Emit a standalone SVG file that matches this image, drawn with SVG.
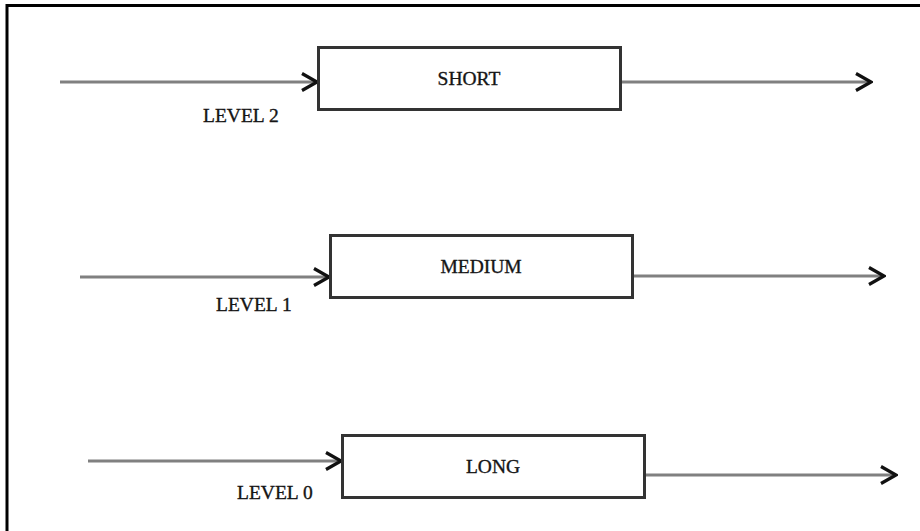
<svg xmlns="http://www.w3.org/2000/svg" width="920" height="531" viewBox="0 0 920 531">
  <style>
    .frame { fill: none; stroke: #000; stroke-width: 3; }
    .box { fill: #fff; stroke: #333; stroke-width: 3; }
    .flow { fill: none; stroke: #808080; stroke-width: 3; marker-end: url(#chevron); }
    .name, .level { font-family: "Liberation Serif", "Times New Roman", serif; font-size: 19.5px; fill: #151515; stroke: #151515; stroke-width: 0.35; }
    .name { text-anchor: middle; }
  </style>
  <defs>
    <marker id="chevron" markerUnits="userSpaceOnUse" viewBox="-18 -11 20 22" refX="0" refY="0" markerWidth="20" markerHeight="22" orient="auto">
      <path d="M-15,-8.5 L0,0 L-15,8.5" fill="none" stroke="#111" stroke-width="3.2" stroke-linejoin="miter"/>
    </marker>
  </defs>

  <rect width="920" height="531" fill="#fff"/>
  <!-- outer frame: left and top edges only are visible -->
  <path class="frame" d="M7,540 L7,5.5 L930,5.5"/>

  <g id="connectors">
    <line class="flow" x1="60" y1="82" x2="317" y2="82"/>
    <line class="flow" x1="621" y1="82" x2="871" y2="82"/>
    <line class="flow" x1="80" y1="277" x2="329" y2="277"/>
    <line class="flow" x1="633" y1="276" x2="884" y2="276"/>
    <line class="flow" x1="88" y1="461" x2="341" y2="461"/>
    <line class="flow" x1="645" y1="475" x2="896" y2="475"/>
  </g>

  <g id="short">
    <rect class="box" x="318.5" y="47.5" width="302" height="62"/>
    <text class="name" x="469" y="85">SHORT</text>
  </g>
  <g id="medium">
    <rect class="box" x="330.5" y="235.5" width="302" height="62"/>
    <text class="name" x="481" y="273">MEDIUM</text>
  </g>
  <g id="long">
    <rect class="box" x="342.5" y="435.5" width="302" height="62"/>
    <text class="name" x="493" y="473">LONG</text>
  </g>

  <g id="level-2">
    <text class="level" x="203" y="122">LEVEL 2</text>
  </g>
  <g id="level-1">
    <text class="level" x="216" y="311">LEVEL 1</text>
  </g>
  <g id="level-0">
    <text class="level" x="237" y="499">LEVEL 0</text>
  </g>
</svg>
